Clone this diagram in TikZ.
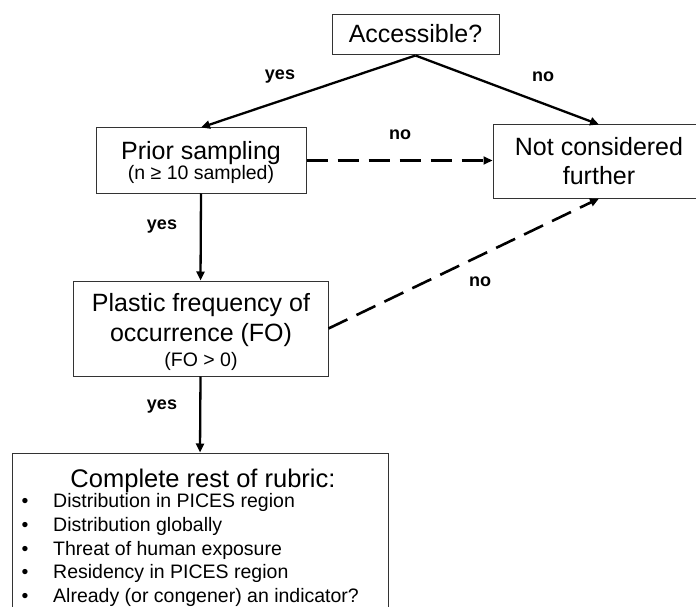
\documentclass[tikz,border=0pt]{standalone}
\usepackage{fontspec}
\setmainfont{Liberation Sans}
\usetikzlibrary{arrows.meta}
\begin{document}
\begin{tikzpicture}[x=1pt,y=-1pt,
  box/.style={draw=black!80,line width=1pt,rectangle,inner sep=0pt},
  big/.style={font=\fontsize{25}{29}\selectfont,inner sep=0pt,anchor=base},
  small/.style={font=\fontsize{19.5}{23}\selectfont,inner sep=0pt,anchor=base},
  item/.style={font=\fontsize{19.5}{23}\selectfont,inner sep=0pt,anchor=base west},
  bul/.style={font=\fontsize{19.5}{23}\selectfont,inner sep=0pt,anchor=base},
  lbl/.style={font=\fontsize{18}{21}\selectfont\bfseries,inner sep=0pt},
  flow/.style={line width=2.3pt,-{Triangle[length=9pt,width=8pt]}},
  flowdash/.style={line width=2.6pt,dash pattern=on 21pt off 10pt,-{Triangle[length=9pt,width=8pt]}},
]
\useasboundingbox (0,0) rectangle (696,607);
\clip (0,0) rectangle (696,607);

% boxes
\node[box,minimum width=167pt,minimum height=40pt] (acc) at (415.5,35) {};
\node[big] (acct) at (415.5,43) {Accessible?};

\node[box,minimum width=210pt,minimum height=65pt] (prior) at (201,160.5) {};
\node[big] (priort1) at (201,160) {Prior sampling};
\node[small] (priort2) at (201,179.5) {(n ≥ 10 sampled)};

\node[box,minimum width=212pt,minimum height=73pt] (nc) at (599,161.5) {};
\node[big] (nct1) at (599,156) {Not considered};
\node[big] (nct2) at (599,184) {further};

\node[box,minimum width=255pt,minimum height=95pt] (plastic) at (200.5,328.5) {};
\node[big] (plt1) at (201,311) {Plastic frequency of};
\node[big] (plt2) at (201,341) {occurrence (FO)};
\node[small] (plt3) at (201,366) {(FO > 0)};

\node[box,minimum width=376pt,minimum height=187pt] (rub) at (200,546.5) {};
\node[big,font=\fontsize{25.5}{29}\selectfont] (rubt) at (203,487) {Complete rest of rubric:};
\foreach \y/\t [count=\i] in {507/Distribution in PICES region,531/Distribution globally,555/Threat of human exposure,578/Residency in PICES region,602/Already (or congener) an indicator?}{
  \node[bul] (b\i) at (25,\y) {•};
  \node[item] (it\i) at (53,\y) {\t};
}

% connectors
\draw[flow] (acc.south) -- (prior.north);
\draw[flow] (acc.south) -- (nc.north);
\draw[flowdash] (prior.east) -- (prior.east -| nc.west);
\draw[flow] (prior.south) -- (plastic.north);
\draw[flowdash] (plastic.east) -- (nc.south);
\draw[flow] (plastic.south) -- (rub.north);

% labels
\node[lbl] (l1) at (280,77) {yes};
\node[lbl] (l2) at (543,77) {no};
\node[lbl] (l3) at (400,135) {no};
\node[lbl] (l4) at (162,227) {yes};
\node[lbl] (l5) at (480,282) {no};
\node[lbl] (l6) at (162,407) {yes};
\end{tikzpicture}
\end{document}
